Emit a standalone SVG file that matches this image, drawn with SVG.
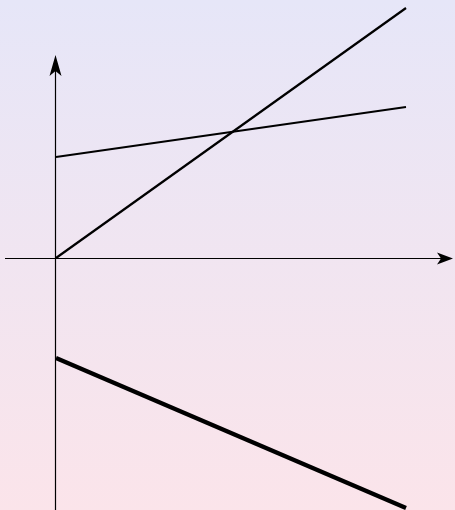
<svg xmlns="http://www.w3.org/2000/svg" width="455" height="510" viewBox="0 0 455 510">
<defs>
<linearGradient id="bg" x1="0" y1="0" x2="0" y2="1">
<stop offset="0" stop-color="#e6e6f8"/>
<stop offset="1" stop-color="#fbe4ea"/>
</linearGradient>
<style>
.ax{stroke:#000;stroke-width:1.2;fill:none}
.ln{stroke:#000;stroke-width:2.2;fill:none}
.thick{stroke:#000;stroke-width:4.2;fill:none}
.head{fill:#000}
</style>
</defs>
<rect width="455" height="510" fill="url(#bg)"/>
<g id="connectors">
<line class="ax" x1="5" y1="258.5" x2="445" y2="258.5"/>
<polygon class="head" points="453,258.5 437,252.5 441,258.5 437,264.5"/>
<line class="ax" x1="55.5" y1="510" x2="55.5" y2="68"/>
<polygon class="head" points="55.5,55 49.5,76 55.5,71 61.5,76"/>
<line class="ln" x1="56" y1="258" x2="406" y2="8"/>
<line class="ln" x1="56" y1="157" x2="406" y2="107"/>
<line class="thick" x1="56" y1="358" x2="406" y2="508"/>
</g>
</svg>
